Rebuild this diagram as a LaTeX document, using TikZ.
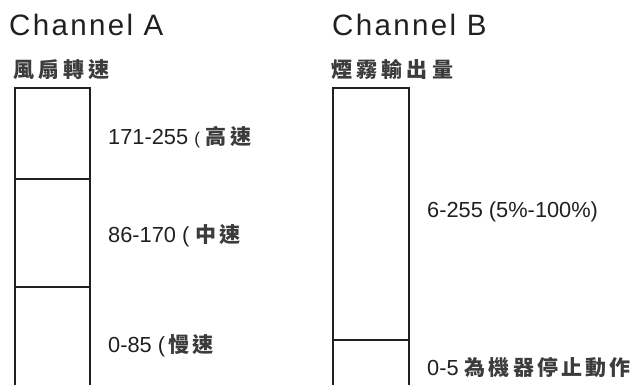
\documentclass[tikz,border=0pt]{standalone}
\usepackage{fontspec}
\setmainfont{Liberation Sans}
\newfontfamily\chfont[LetterSpace=8]{Liberation Sans}
\newfontfamily\cjkhead[LetterSpace=20]{Noto Sans CJK TC}
\newfontfamily\cjklab[LetterSpace=15]{Noto Sans CJK TC}
\definecolor{linec}{HTML}{231F20}
\definecolor{txt}{HTML}{231F20}
\definecolor{cjkc}{HTML}{3C3C3C}
\newcommand{\cjkl}[1]{{\cjklab\bfseries\fontsize{21}{21}\selectfont\color{cjkc}#1}}
\begin{document}
\begin{tikzpicture}[x=1pt,y=-1pt,
  bar/.style={line width=2pt, draw=linec, line cap=butt},
  lab/.style={anchor=base west, inner sep=0pt, text=txt, font=\fontsize{21.8}{21.8}\selectfont},
  chan/.style={anchor=base west, inner sep=0pt, text=txt, font=\chfont\fontsize{29.5}{29.5}\selectfont},
  head/.style={anchor=base west, inner sep=0pt, text=cjkc, font=\cjkhead\bfseries\fontsize{21}{21}\selectfont}]
\useasboundingbox (0,0) rectangle (635,385);
% bars
\draw[bar] (15,386) -- (15,88) -- (90,88) -- (90,386);
\draw[bar] (15,179) -- (90,179);
\draw[bar] (15,287) -- (90,287);
\draw[bar] (333,386) -- (333,88) -- (409,88) -- (409,386);
\draw[bar] (333,340) -- (409,340);
% titles
\node[chan] (cha) at (9,36) {Channel A};
\node[chan] (chb) at (332,36) {Channel B};
\node[head] (ha) at (13,78) {風扇轉速};
\node[head] (hb) at (331,78) {煙霧輸出量};
% labels
\node[lab] (a1) at (108,145) {171-255 {\fontsize{17}{17}\selectfont(}\hspace{6pt}\cjkl{高速}};
\node[lab] (a2) at (108,243) {86-170 ( \cjkl{中速}};
\node[lab] (a3) at (108,352) {0-85 (\hspace{3pt}\cjkl{慢速}};
\node[lab] (b1) at (427,218) {6-255 (5\%-100\%)};
\node[lab] (b2) at (427,375) {0-5 \cjkl{為機器停止動作}};
\end{tikzpicture}
\end{document}
